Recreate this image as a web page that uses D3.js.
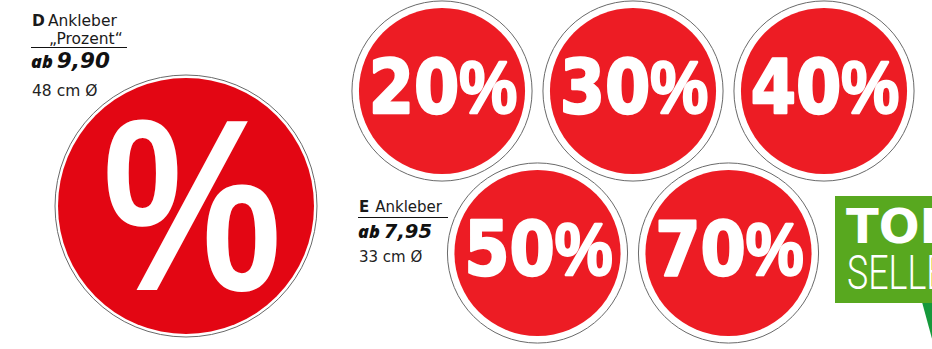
<!DOCTYPE html>
<html>
<head>
<meta charset="utf-8">
<script src="https://cdn.jsdelivr.net/npm/d3@7"></script>
<style>
	body { margin: 0; background: #fff; }
	svg { display: block; }
</style>
</head>
<body>
<div id="sheet"></div>
<script>

// sticker sheet values
const discountLabels = ['20', '30', '40', '50', '70'];
const discountSlots = [0, 1, 2, 0.5, 1.5];
const discountRows = [0, 0, 0, 1, 1];

const productCodes = ['D', 'E'];
const productNames = [['Ankleber', '„Prozent“'], ['Ankleber']];
const productPrices = ['9,90', '7,95'];
const productDiameters = [48, 33]; // cm

const badgeLines = ['TOP', 'SELLER'];

class StickerSheet {

	constructor(options) {
		this.element = options.element;
		this.draw();
	}

	draw() {

		this.width = 932;
		this.height = 349;

		this.red = '#ed1c24';
		this.deepRed = '#e30613';
		this.outline = '#6a6a6a';

		this.createSVG();
		this.createScales();
		this.createBigSticker();
		this.createSmallStickers();
		this.createLabels();
		this.createBadge();

	}

	createSVG() {
		this.svg = d3.select(this.element)
			.append('svg')
				.attr('width', this.width)
				.attr('height', this.height);

		this.svg.append('rect')
			.attr('width', this.width)
			.attr('height', this.height)
			.attr('fill', '#fff');
	}

	createScales() {

		// sticker size follows the diameter in cm
		this.radiusScale = d3.scaleLinear()
			.domain([0, 48])
			.range([0, 131]);

		this.slotScale = d3.scaleLinear()
			.domain([0, 2])
			.range([442, 824]);

		this.rowScale = d3.scaleLinear()
			.domain([0, 1])
			.range([91, 253]);

	}

	createBigSticker() {

		var r = this.radiusScale(productDiameters[0]);
		var g = this.svg.append('g')
			.attr('transform', 'translate(186, 206)');

		g.append('circle')
			.attr('r', r)
			.attr('fill', '#fff')
			.attr('stroke', this.outline)
			.attr('stroke-width', 1);

		g.append('circle')
			.attr('r', r - 3)
			.attr('fill', this.deepRed);

		g.append('text')
			.attr('transform', 'translate(6, 84) scale(0.84, 1.02)')
			.attr('text-anchor', 'middle')
			.attr('font-family', '"Liberation Sans", Arial, sans-serif')
			.attr('font-weight', 700)
			.attr('font-size', 240)
			.attr('fill', '#fff')
			.text('%');

	}

	createSmallStickers() {

		var that = this;
		var r = this.radiusScale(productDiameters[1]);

		var stickers = this.svg.append('g')
			.selectAll('g')
			.data(discountLabels).enter()
			.append('g')
				.attr('transform', function(d, i) {
					return `translate(${that.slotScale(discountSlots[i])}, ${that.rowScale(discountRows[i])})`;
				});

		stickers.append('circle')
			.attr('r', r)
			.attr('fill', '#fff')
			.attr('stroke', this.outline)
			.attr('stroke-width', 1);

		stickers.append('circle')
			.attr('r', r - 7)
			.attr('fill', this.red);

		// wide digits, narrow percent sign, squeezed a little
		var label = stickers.append('text')
			.attr('transform', 'translate(1, 22) scale(0.88, 1)')
			.attr('text-anchor', 'middle')
			.attr('font-weight', 700)
			.attr('font-size', 74)
			.attr('fill', '#fff')
			.attr('stroke', '#fff')
			.attr('stroke-width', 2.5)
			.attr('stroke-linejoin', 'round');

		label.append('tspan')
			.attr('font-family', '"DejaVu Sans", sans-serif')
			.text(function(d) { return d; });

		label.append('tspan')
			.attr('font-family', '"Liberation Sans", Arial, sans-serif')
			.text('%');

	}

	createLabels() {

		var that = this;
		var spots = [
			{ x: 32, y: 26, lineY: 47.5, right: 127, priceY: 68, sizeY: 96, fs: 15.5, priceFs: 21.5 },
			{ x: 359, y: 212, lineY: 217.5, right: 448, priceY: 238, sizeY: 262, fs: 15, priceFs: 19.5 }
		];

		productCodes.forEach(function(code, i) {

			var s = spots[i];
			var g = that.svg.append('g')
				.attr('font-family', '"DejaVu Sans", sans-serif')
				.attr('fill', '#1a1a1a');

			var head = g.append('text')
				.attr('x', s.x)
				.attr('y', s.y)
				.attr('font-size', s.fs);

			head.append('tspan')
				.attr('font-weight', 700)
				.text(code);

			head.append('tspan')
				.attr('dx', i === 0 ? 3 : 6)
				.text(productNames[i][0]);

			if (productNames[i][1]) {
				g.append('text')
					.attr('x', s.x + 17)
					.attr('y', s.y + 18)
					.attr('font-size', s.fs)
					.text(productNames[i][1]);
			}

			g.append('line')
				.attr('x1', s.x - 1)
				.attr('x2', s.right)
				.attr('y1', s.lineY)
				.attr('y2', s.lineY)
				.attr('stroke', '#111')
				.attr('stroke-width', 1.2);

			var price = g.append('text')
				.attr('x', s.x - 1)
				.attr('y', s.priceY)
				.attr('fill', '#111');

			price.append('tspan')
				.attr('font-family', '"Open Sans", sans-serif')
				.attr('font-style', 'italic')
				.attr('font-weight', 800)
				.attr('font-size', 18)
				.text('ab');

			price.append('tspan')
				.attr('dx', 4)
				.attr('font-style', 'oblique')
				.attr('font-weight', 700)
				.attr('font-size', s.priceFs)
				.text(productPrices[i]);

			g.append('text')
				.attr('x', s.x)
				.attr('y', s.sizeY)
				.attr('font-size', s.fs)
				.attr('fill', '#222')
				.text(`${productDiameters[i]} cm Ø`);

		});

	}

	createBadge() {

		var g = this.svg.append('g');

		g.append('polygon')
			.attr('points', '922,302 948,302 934,346')
			.attr('fill', '#16993b');

		g.append('rect')
			.attr('x', 835)
			.attr('y', 196)
			.attr('width', 110)
			.attr('height', 107)
			.attr('fill', '#58a81f');

		g.append('text')
			.attr('x', 846)
			.attr('y', 243)
			.attr('font-family', '"DejaVu Sans", sans-serif')
			.attr('font-weight', 700)
			.attr('font-size', 48)
			.attr('fill', '#fff')
			.text(badgeLines[0]);

		g.append('text')
			.attr('transform', 'translate(847, 289) scale(0.745, 1)')
			.attr('font-family', 'Roboto, sans-serif')
			.attr('font-weight', 300)
			.attr('font-size', 48)
			.attr('fill', '#fff')
			.text(badgeLines[1]);

	}

}

new StickerSheet({ element: '#sheet' });

</script>
</body>
</html>
